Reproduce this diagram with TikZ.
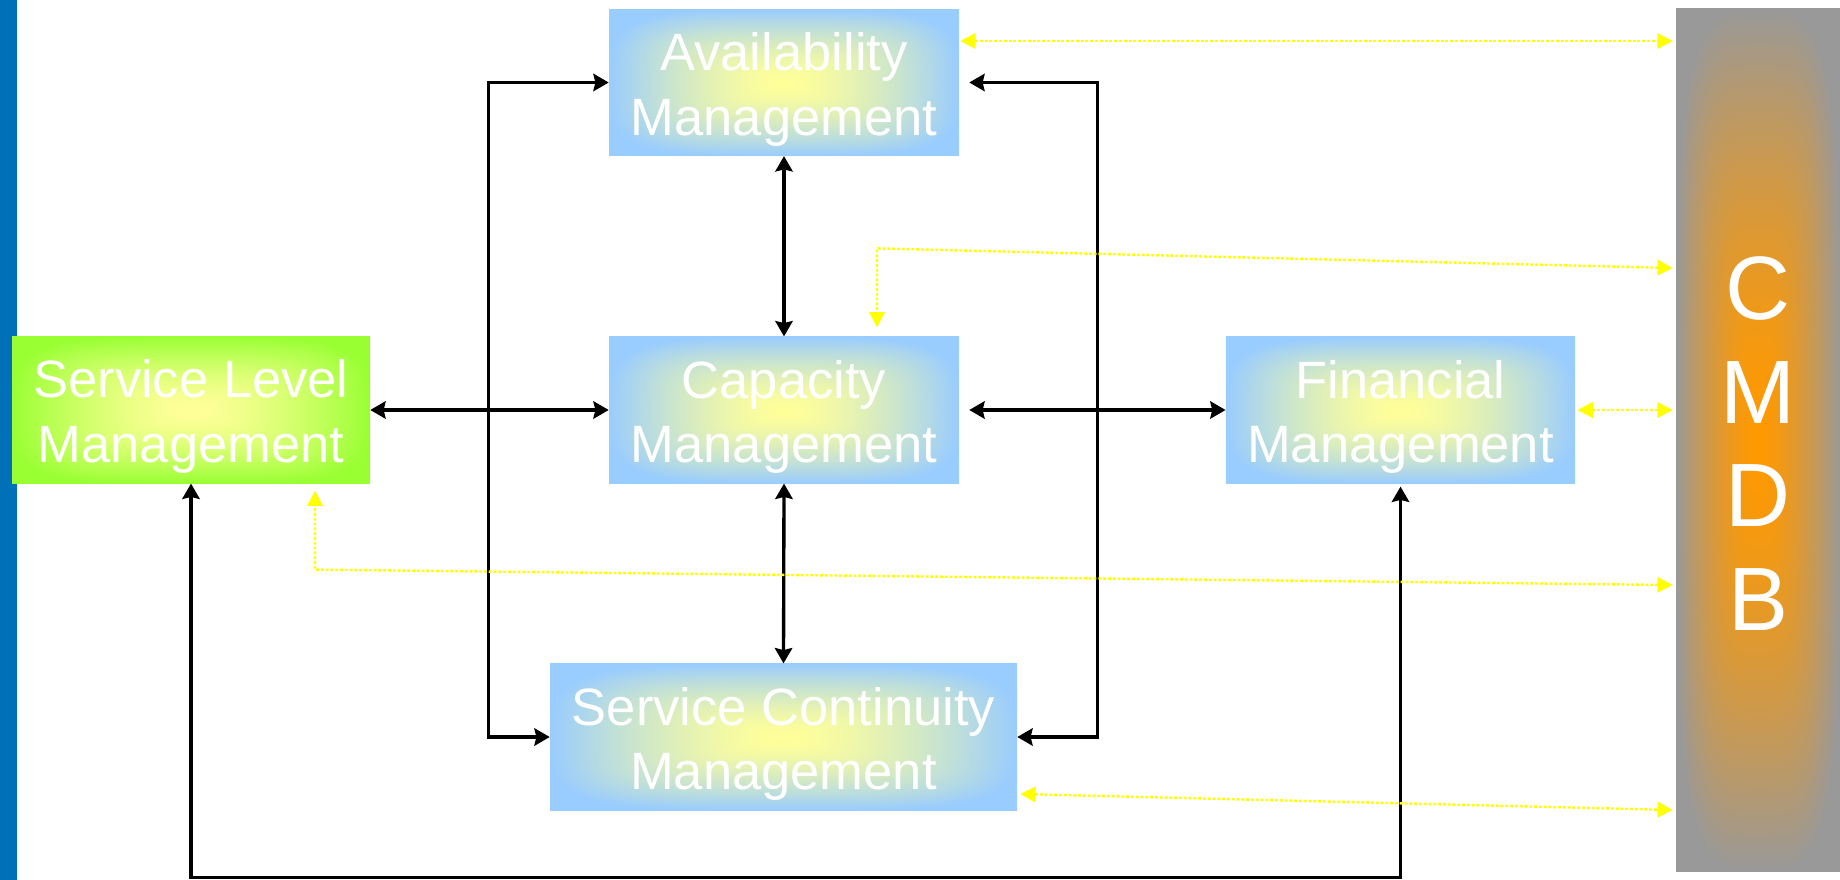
\documentclass[tikz,border=0pt]{standalone}
\usepackage{fontspec}
\newfontfamily\diagfont{Liberation Sans}
\usetikzlibrary{arrows.meta,calc}

\definecolor{barblue}{RGB}{0,112,184}
\definecolor{linkyellow}{RGB}{255,255,0}

% soft "from centre" gradients over the inner 50bp square:
% r = min(1, (x^4+y^4)^(1/4)/25), t = r^1.5, colour = inner + t*(outer-inner)
% light yellow -> light blue
\pgfdeclarefunctionalshading{bluepath}{\pgfpoint{-50bp}{-50bp}}{\pgfpoint{50bp}{50bp}}{}{
 dup mul dup mul exch dup mul dup mul add sqrt sqrt 25 div
 dup 1 sub abs neg add 1 add 2 div dup sqrt mul
 dup dup 0.4 mul 0.6 add 3 1 roll -0.2 mul 1 add exch -0.4 mul 1 add 3 1 roll exch
}
% light yellow -> lime green
\pgfdeclarefunctionalshading{greenpath}{\pgfpoint{-50bp}{-50bp}}{\pgfpoint{50bp}{50bp}}{}{
 dup mul dup mul exch dup mul dup mul add sqrt sqrt 25 div
 dup 1 sub abs neg add 1 add 2 div dup sqrt mul
 dup dup -0.4 mul 0.6 add 3 1 roll 0 mul 1 add exch -0.4 mul 1 add 3 1 roll exch
}
% orange -> grey
\pgfdeclarefunctionalshading{orangepath}{\pgfpoint{-50bp}{-50bp}}{\pgfpoint{50bp}{50bp}}{}{
 dup mul dup mul exch dup mul dup mul add sqrt sqrt 25 div
 dup 1 sub abs neg add 1 add 2 div dup sqrt mul
 dup dup 0.6 mul 0 add 3 1 roll 0 mul 0.6 add exch -0.4 mul 1 add 3 1 roll exch
}

\tikzset{
  procbox/.style={rectangle, inner sep=0pt, minimum height=110pt, shade, shading=bluepath},
  slmbox/.style={rectangle, inner sep=0pt, minimum height=110pt, shade, shading=greenpath},
  dbbox/.style={rectangle, inner sep=0pt, shade, shading=orangepath},
  boxtext/.style={text=white, align=center, inner sep=0pt,
    font=\diagfont\fontsize{39.4pt}{48.4pt}\selectfont},
  dbtext/.style={text=white, align=center, inner sep=0pt,
    font=\diagfont\fontsize{67.5pt}{77.8pt}\selectfont},
  blk/.style={draw=black, line width=2.5pt,
    >={Stealth[length=11.5pt,width=13pt,inset=1.5pt]}, <->},
  ylw/.style={draw=linkyellow, line width=1.8pt, dash pattern=on 2.2pt off 1.4pt,
    >={Triangle[length=11.5pt,width=11.5pt]}, <->},
}

\begin{document}
\begin{tikzpicture}[x=0.75pt, y=-0.75pt]
\useasboundingbox (0,0) rectangle (1840,880);

% left edge bar
\fill[barblue] (0,0) rectangle (17,880);

% process boxes
\node[procbox, minimum width=262.5pt] (avail) at (784,82.5) {};
\node[procbox, minimum width=262.5pt] (cap) at (784,410) {};
\node[procbox, minimum width=262pt] (fin) at (1400.5,410) {};
\node[slmbox, minimum width=268.5pt] (slm) at (191,410) {};
\node[procbox, minimum width=350.25pt] (sc) at (783.5,737) {};
\node[dbbox, minimum width=123pt, minimum height=646.5pt] (cmdb) at (1758,440) {};

% labels
\node[boxtext] (availtxt) at (784,89.5) {Availability\\Management};
\node[boxtext] (captxt) at (784,417) {Capacity\\Management};
\node[boxtext] (fintxt) at (1400.5,417) {Financial\\Management};
\node[boxtext] (slmtxt) at (191,416.5) {Service Level\\Management};
\node[boxtext] (sctxt) at (783.5,744) {Service Continuity\\Management};
\node[dbtext] (cmdbtxt) at (1758,443.5) {C\\M\\D\\B};

% process relations
\draw[blk] (avail.south) -- (cap.north);
\draw[blk] (cap.south) -- (sc.north);
\draw[blk] (slm.east) -- (cap.west);
\draw[blk] ($(cap.east)+(10,0)$) -- (fin.west);
\draw[blk] (avail.west) -- ++(-120,0) |- (sc.west);
\draw[blk] ($(avail.east)+(10,0)$) -- ++(128,0) |- (sc.east);
\draw[blk] (slm.south) -- ++(0,394) -| ($(fin.south)+(0,3)$);

% CMDB links
\draw[ylw] ($(avail.east)+(1,-41.5)$) -- ($(cmdb.west)+(-3,-399)$);
\draw[ylw] ($(cmdb.west)+(-3,-172)$) -- ($(cap.north)+(93,-88)$) -- ($(cap.north)+(93,-9)$);
\draw[ylw] ($(fin.east)+(2,0)$) -- ($(cmdb.west)+(-3,-30)$);
\draw[ylw] ($(cmdb.west)+(-3,145)$) -- ($(slm.south)+(124,86)$) -- ($(slm.south)+(124,7)$);
\draw[ylw] ($(sc.east)+(3,57)$) -- ($(cmdb.west)+(-3,370)$);
\end{tikzpicture}
\end{document}
